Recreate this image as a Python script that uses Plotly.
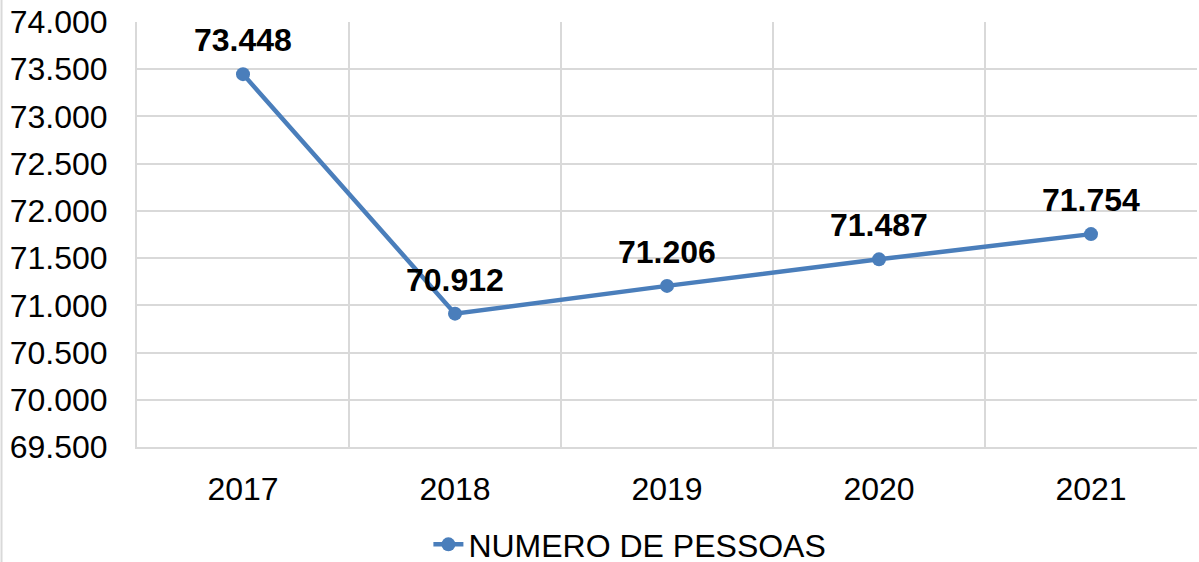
import plotly.graph_objects as go

years = ["2017", "2018", "2019", "2020", "2021"]
pessoas = [73448, 70912, 71206, 71487, 71754]
labels = ["73.448", "70.912", "71.206", "71.487", "71.754"]

blue = "#4A7EBB"

fig = go.Figure(go.Scatter(
    x=years,
    y=pessoas,
    mode="lines+markers",
    name="NUMERO DE PESSOAS",
    line=dict(color=blue, width=4.5),
    marker=dict(color=blue, size=14),
    cliponaxis=False,
))

# data labels above each point (x as category index)
for i, (val, lab) in enumerate(zip(pessoas, labels)):
    fig.add_annotation(x=i, y=val, text=lab, showarrow=False, yshift=34,
                       font=dict(family="Liberation Sans", size=32, color="black", weight="bold"))

fig.update_layout(
    width=1199, height=562,
    margin=dict(l=137, r=2, t=22, b=115),
    paper_bgcolor="white", plot_bgcolor="white",
    font=dict(family="Liberation Sans", size=32, color="black"),
    separators=",.",
    showlegend=True,
    legend=dict(orientation="h", x=0.465, xanchor="center",
                yref="container", y=0.08, yanchor="top",
                font=dict(size=32)),
)
fig.update_xaxes(type="category", range=[-0.5, 4.5], tickson="boundaries", showgrid=True,
                 gridcolor="#D9D9D9", gridwidth=2, ticks="", showline=True,
                 linecolor="#D9D9D9", linewidth=2, mirror=False,
                 zeroline=False, ticklabelstandoff=13, automargin=False)
fig.update_yaxes(range=[69500, 74000], dtick=500, tickformat=",d",
                 showgrid=True, gridcolor="#D9D9D9", gridwidth=2,
                 zeroline=False, showline=True, linecolor="#D9D9D9", linewidth=2,
                 ticks="", ticklabelstandoff=21, automargin=False)

fig.add_shape(type="line", xref="paper", yref="paper", x0=-0.1278, x1=-0.1278,
              y0=-0.3, y1=1.1, line=dict(color="#D9D9D9", width=2))

fig.write_html("out.html", config={"displayModeBar": False},
               post_script="document.body.style.margin='0';")
